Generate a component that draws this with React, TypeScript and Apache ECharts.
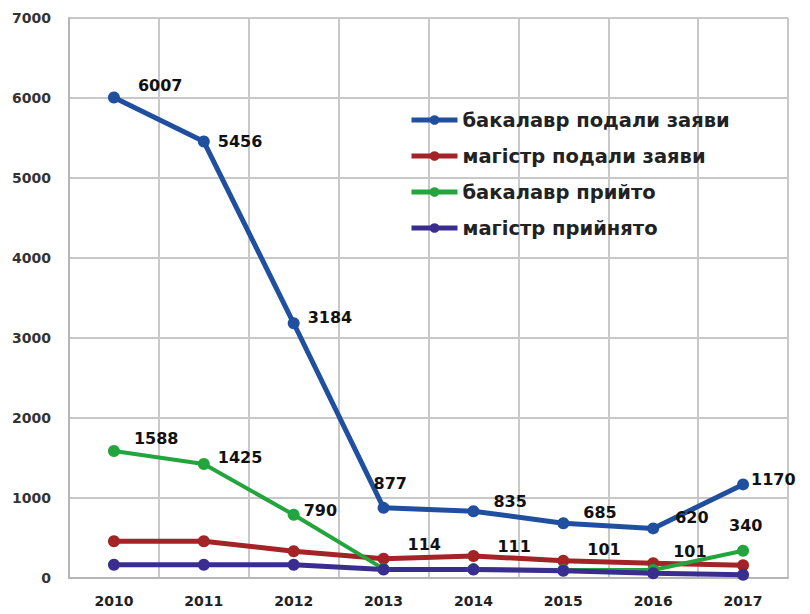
import React, { useEffect, useRef } from "react";
import * as echarts from "echarts";

const years = ["2010", "2011", "2012", "2013", "2014", "2015", "2016", "2017"];
const bachelorApplied = [6007, 5456, 3184, 877, 835, 685, 620, 1170];
const masterApplied = [460, 460, 335, 240, 275, 215, 185, 160];
const bachelorAccepted = [1588, 1425, 790, 114, 111, 101, 101, 340];
const masterAccepted = [165, 165, 165, 105, 105, 90, 60, 40];
const seriesNames = [
  "бакалавр подали заяви",
  "магістр подали заяви",
  "бакалавр прийто",
  "магістр прийнято",
];

// label offsets [dx, dy] relative to the right of each point
const blueOffsets = [[12, -12], [2, 0], [2, -6], [-22, -24], [8, -10], [8, -11], [10, -11], [-4, -5]];
const greenOffsets = [[8, -12], [2, -7], [-2, -4], [12, -24], [12, -23], [12, -20], [8, -18], [-26, -25]];

const FONT = "DejaVu Sans";

export default function App() {
  const ref = useRef<HTMLDivElement>(null);
  useEffect(() => {
    if (!ref.current) return;
    const chart = echarts.init(ref.current, undefined, { renderer: "svg" });
    const labelled = (vals: number[], offs: number[][]) =>
      vals.map((v, i) => ({
        value: v,
        label: { show: true, position: "right", offset: offs[i], distance: 6 },
      }));
    const mk = (name: string, color: string, data: any, showLabel: boolean, w: number) => ({
      name,
      type: "line",
      data,
      symbol: "circle",
      symbolSize: 12,
      lineStyle: { color, width: w },
      itemStyle: { color },
      z: 3,
      label: {
        show: showLabel,
        color: "#111",
        fontFamily: FONT,
        fontWeight: "bold",
        fontSize: 16,
      },
    });
    chart.setOption({
      animation: false,
      backgroundColor: "#fff",
      grid: { left: 69, right: 22, top: 18, bottom: 36, containLabel: false },
      legend: {
        orient: "vertical",
        left: 404,
        top: 105,
        itemWidth: 46,
        itemHeight: 12,
        itemGap: 16,
        lineStyle: { width: 5 },
        data: seriesNames,
        textStyle: { fontFamily: FONT, fontSize: 19.5, color: "#222", fontWeight: "bold" },
      },
      xAxis: {
        type: "category",
        data: years,
        boundaryGap: true,
        axisLine: { lineStyle: { color: "#b5b5b5", width: 2 } },
        axisTick: { show: false },
        splitLine: { show: true, lineStyle: { color: "#c8c8c8", width: 2 } },
        axisLabel: {
          fontFamily: FONT,
          fontWeight: "bold",
          fontSize: 14,
          color: "#222",
          margin: 16,
        },
      },
      yAxis: {
        type: "value",
        min: 0,
        max: 7000,
        interval: 1000,
        axisLine: { show: true, lineStyle: { color: "#b5b5b5", width: 2 } },
        axisTick: { show: false },
        splitLine: { lineStyle: { color: "#c8c8c8", width: 2 } },
        axisLabel: {
          fontFamily: FONT,
          fontWeight: "bold",
          fontSize: 14,
          color: "#333",
          margin: 18,
          formatter: (v: number) => String(v),
        },
      },
      series: [
        mk(seriesNames[0], "#1f4f9e", labelled(bachelorApplied, blueOffsets), true, 5),
        mk(seriesNames[1], "#a32326", masterApplied, false, 5),
        mk(seriesNames[2], "#22a53c", labelled(bachelorAccepted, greenOffsets), true, 4),
        mk(seriesNames[3], "#3a2d90", masterAccepted, false, 5),
      ],
    });
    return () => chart.dispose();
  }, []);
  return <div ref={ref} style={{ width: 810, height: 614, margin: -8 }} />;
}
